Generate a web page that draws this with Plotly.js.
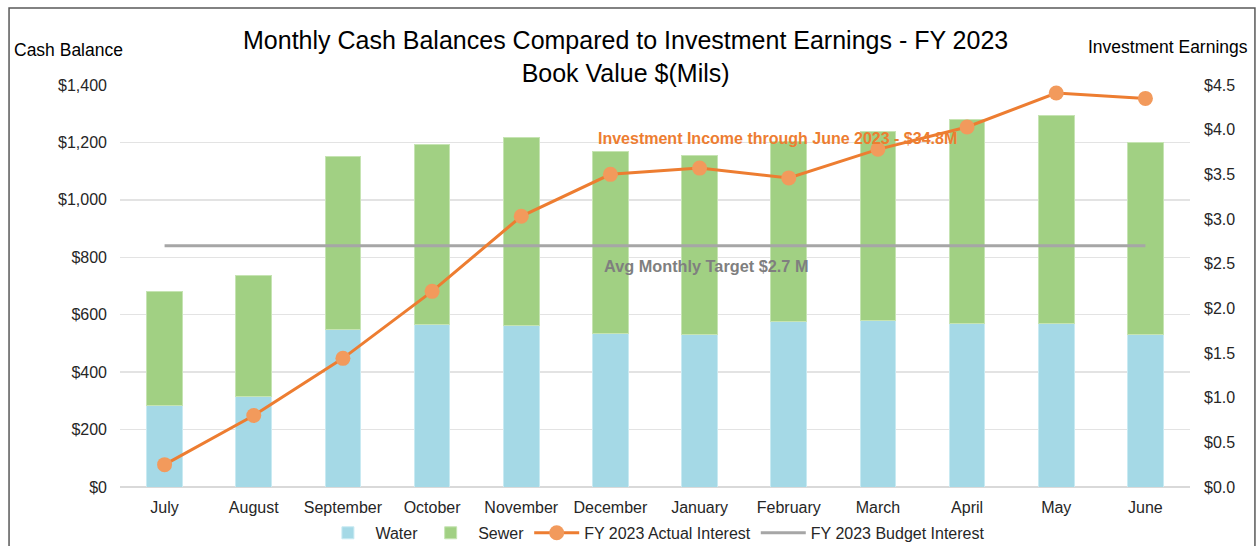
<!DOCTYPE html>
<html>
<head>
<meta charset="utf-8">
<script src="https://cdn.plot.ly/plotly-3.0.1.min.js"></script>
<style>
html,body{margin:0;padding:0;background:#fff;}
#chart{width:1258px;height:546px;}
</style>
</head>
<body>
<div id="chart"></div>
<script>
const months = ["July","August","September","October","November","December","January","February","March","April","May","June"];
const water = [283, 315, 550, 567, 563, 536, 532, 578, 581, 569, 571, 532];
const sewer = [399, 421, 601, 626, 654, 633, 623, 625, 656, 710, 724, 668];
const actualInterest = [0.25, 0.80, 1.44, 2.19, 3.03, 3.50, 3.57, 3.46, 3.78, 4.03, 4.41, 4.35];
const budgetInterest = [2.7, 2.7, 2.7, 2.7, 2.7, 2.7, 2.7, 2.7, 2.7, 2.7, 2.7, 2.7];
const leftTicks = [0, 200, 400, 600, 800, 1000, 1200, 1400];
const rightTicks = [0, 0.5, 1, 1.5, 2, 2.5, 3, 3.5, 4, 4.5];

const FONT = "Liberation Sans, Arial, sans-serif";

const data = [
  {type:"bar", name:"Water", x:months, y:water, marker:{color:"#A5D9E6", line:{color:"#C9EAF2", width:1}}, legendrank:1},
  {type:"bar", name:"Sewer", x:months, y:sewer, marker:{color:"#A1D083", line:{color:"#C6E4B3", width:1}}, legendrank:2},
  {type:"scatter", mode:"lines", name:"FY 2023 Budget Interest", x:months, y:budgetInterest, yaxis:"y2",
   line:{color:"#A6A6A6", width:3}, legendrank:4},
  {type:"scatter", mode:"lines+markers", name:"FY 2023 Actual Interest", x:months, y:actualInterest, yaxis:"y2",
   line:{color:"#ED7D31", width:3}, marker:{color:"#F29A5C", size:15}, legendrank:3}
];

const layout = {
  width:1258, height:546,
  margin:{l:120, r:68, t:85, b:59, autoexpand:false},
  paper_bgcolor:"#fff", plot_bgcolor:"#fff",
  font:{family:FONT, size:16, color:"#262626"},
  barmode:"stack", bargap:0.6,
  showlegend:true,
  legend:{orientation:"h", xref:"container", yref:"container", x:0.521, xanchor:"center", y:0.024, yanchor:"middle",
          font:{size:16, color:"#262626"}, traceorder:"normal", itemwidth:45},
  xaxis:{type:"category", range:[-0.5, 11.5], showgrid:false, zeroline:false, automargin:false,
         showline:false, ticks:"", ticklabelstandoff:9, tickfont:{size:16, color:"#262626"}},
  yaxis:{range:[0,1400], tickvals:leftTicks, tickformat:"$,.0f", showgrid:true, gridcolor:"#E3E3E3",
         gridwidth:1.5, zeroline:true, zerolinecolor:"#D9D9D9", zerolinewidth:1.5, ticks:"", automargin:false,
         ticklabelstandoff:12, tickfont:{size:16, color:"#262626"}},
  yaxis2:{range:[0,4.5], tickvals:rightTicks, tickformat:"$.1f", overlaying:"y", side:"right", automargin:false,
          showgrid:false, zeroline:false, ticks:"", ticklabelstandoff:13, tickfont:{size:16, color:"#262626"}},
  annotations:[
    {xref:"paper", yref:"paper", x:0.472, y:1.0697, xanchor:"center", yanchor:"middle", showarrow:false,
     text:"Monthly Cash Balances Compared to Investment Earnings - FY 2023<br>Book Value $(Mils)",
     font:{size:25, color:"#000"}},
    {xref:"paper", yref:"paper", x:-0.101, y:1.087, xanchor:"left", yanchor:"middle", showarrow:false,
     text:"Cash Balance", font:{size:17.5, color:"#000"}},
    {xref:"paper", yref:"paper", x:1.056, y:1.095, xanchor:"right", yanchor:"middle", showarrow:false,
     text:"Investment Earnings", font:{size:17.5, color:"#000"}},
    {xref:"paper", yref:"paper", x:0.6145, y:0.868, xanchor:"center", yanchor:"middle", showarrow:false,
     text:"<b>Investment Income through June 2023 - $34.8M</b>", font:{size:16, color:"#ED7D31"}},
    {xref:"paper", yref:"paper", x:0.5477, y:0.5498, xanchor:"center", yanchor:"middle", showarrow:false,
     text:"<b>Avg Monthly Target $2.7 M</b>", font:{size:16.3, color:"#7F7F7F"}}
  ],
  shapes:[
    {type:"rect", xref:"paper", yref:"paper", x0:-0.1037, x1:1.0607, y0:-0.16, y1:1.1915,
     line:{color:"#595959", width:1.5}, fillcolor:"rgba(0,0,0,0)"}
  ]
};

Plotly.newPlot("chart", data, layout, {displayModeBar:false, staticPlot:true});
</script>
</body>
</html>
